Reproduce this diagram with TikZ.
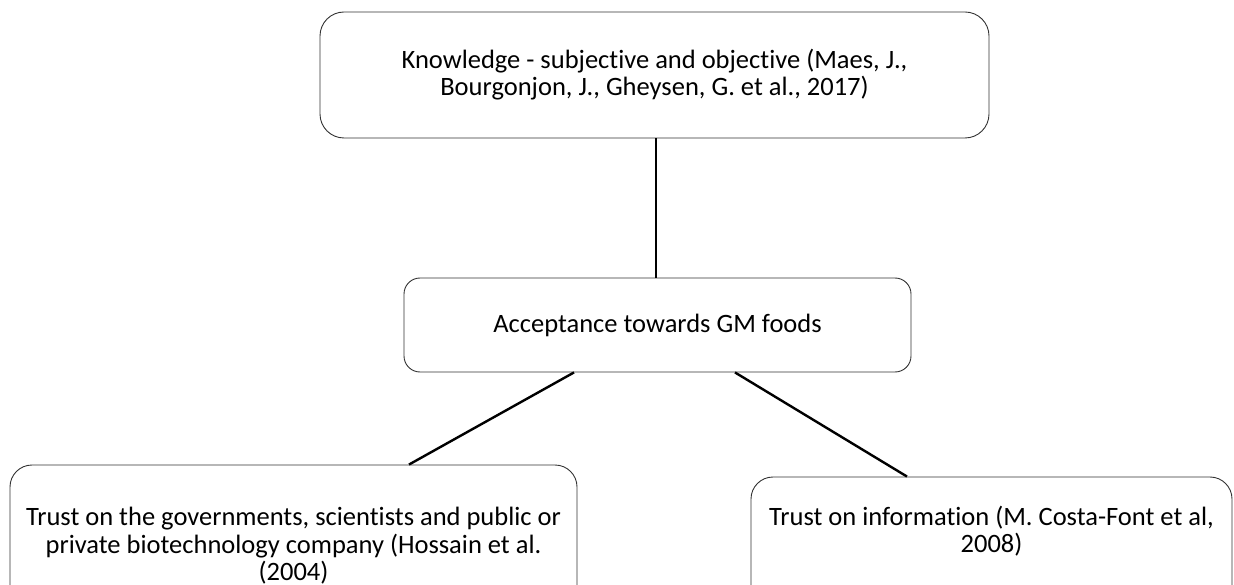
\documentclass[tikz,border=0pt]{standalone}
\usepackage{fontspec}
\setmainfont{Carlito}[Ligatures={NoCommon}]
\begin{document}
\begin{tikzpicture}[x=1pt,y=-1pt,
  box/.style={draw=black!80, line width=0.9pt, rounded corners=#1, inner sep=0pt},
  box/.default=20pt,
  txt/.style={align=center, inner sep=0pt, font=\fontsize{26.5}{27.5}\selectfont},
  link/.style={line width=2.4pt, black}]
\useasboundingbox (0,0) rectangle (1234,585);
% boxes
\node[box=24pt, minimum width=669pt, minimum height=126pt] (know) at (654.5,75) {};
\node[box=16pt, minimum width=507pt, minimum height=94pt] (accept) at (657.5,325) {};
\node[box=22pt, minimum width=567pt, minimum height=170pt] (gov) at (293.5,550) {};
\node[box=22pt, minimum width=481pt, minimum height=160pt] (info) at (991.5,557) {};
% texts
\node[txt] (tknow) at (654.5,74.5) {Knowledge - subjective and objective (Maes, J.,\\Bourgonjon, J., Gheysen, G. et al., 2017)};
\node[txt] (taccept) at (657.5,325.5) {Acceptance towards GM foods};
\node[txt] (tgov) at (293.5,546) {Trust on the governments, scientists and public or\\private biotechnology company (Hossain et al.\\(2004)};
\node[txt] (tinfo) at (991.5,531) {Trust on information (M. Costa-Font et al,\\2008)};
% connectors
\draw[link] ([xshift=1.5pt]know.south) -- ([xshift=-1.5pt]accept.north);
\draw[link] ([xshift=-83.5pt]accept.south) -- ([xshift=115.5pt]gov.north);
\draw[link] ([xshift=77.5pt]accept.south) -- ([xshift=-84.5pt]info.north);
\end{tikzpicture}
\end{document}
